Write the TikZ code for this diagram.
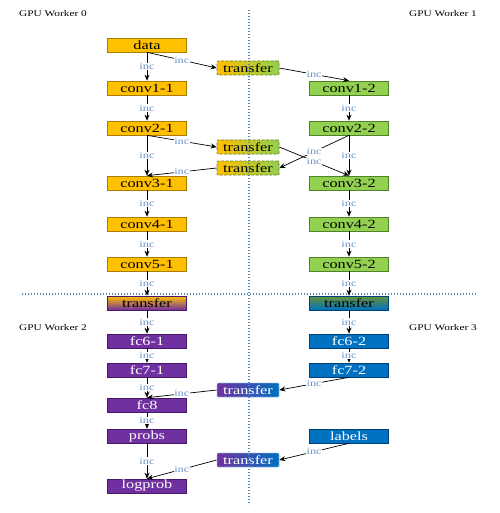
\documentclass[tikz,border=0pt]{standalone}
\usepackage{fontspec}
\setmainfont[FakeStretch=1.3]{Liberation Serif}
\usetikzlibrary{arrows.meta}
\definecolor{org}{RGB}{255,192,0}
\definecolor{orgb}{RGB}{170,125,0}
\definecolor{grn}{RGB}{146,208,80}
\definecolor{grnb}{RGB}{80,130,40}
\definecolor{prp}{RGB}{112,48,160}
\definecolor{prpb}{RGB}{70,25,110}
\definecolor{blu}{RGB}{0,112,192}
\definecolor{blub}{RGB}{0,65,120}
\definecolor{incc}{RGB}{110,150,200}
\definecolor{dotc}{RGB}{80,140,190}
\tikzset{
  box/.style={minimum width=79pt, minimum height=14pt, inner sep=0pt, font=\fontsize{12.5}{12.5}\selectfont, draw, line width=0.6pt},
  orangebox/.style={box, fill=org, draw=orgb},
  greenbox/.style={box, fill=grn, draw=grnb},
  purplebox/.style={box, fill=prp, draw=prpb, text=white},
  bluebox/.style={box, fill=blu, draw=blub, text=white},
  gradop/.style={box, top color=org, bottom color=prp, draw=prpb},
  gradgb/.style={box, top color=grn!70!black, bottom color=blu, draw=blub},
  xfer/.style={minimum width=62pt, minimum height=14pt, inner sep=0pt, rounded corners=1pt, dash pattern=on 3pt off 1.5pt, font=\fontsize{12.5}{12.5}\selectfont, line width=0.7pt},
  xferog/.style={xfer, left color=org, right color=grn, draw=grnb!80!orgb},
  xferpb/.style={xfer, left color=prp, right color=blu, draw=white!55!blu, text=white},
  arr/.style={-{Stealth[length=6pt,width=5pt]}, line width=0.7pt, black},
  inc/.style={midway, fill=white, inner sep=0.4pt, text=incc, font=\fontsize{9.5}{9.5}\selectfont},
  worker/.style={font=\fontsize{8.7}{8.7}\selectfont, inner sep=0pt},
  sepline/.style={dotc, line width=1.3pt, dash pattern=on 1.1pt off 1.9pt}
}
\begin{document}
\begin{tikzpicture}[x=1pt,y=-1pt]
\useasboundingbox (0,0) rectangle (499,513);
\node[worker] (w0) at (53,14) {GPU Worker 0};
\node[worker] (w1) at (443,14) {GPU Worker 1};
\node[worker] (w2) at (53,328) {GPU Worker 2};
\node[worker] (w3) at (443,328) {GPU Worker 3};

\node[orangebox] (data) at (147,45) {data};
\node[xferog] (t1) at (248,68) {transfer};
\node[orangebox] (c11) at (147,88) {conv1-1};
\node[greenbox] (c12) at (349,88) {conv1-2};
\node[orangebox] (c21) at (147,128) {conv2-1};
\node[greenbox] (c22) at (349,128) {conv2-2};
\node[xferog] (t2) at (248,147) {transfer};
\node[xferog] (t3) at (248,168) {transfer};
\node[orangebox] (c31) at (147,183) {conv3-1};
\node[greenbox] (c32) at (349,183) {conv3-2};
\node[orangebox] (c41) at (147,224) {conv4-1};
\node[greenbox] (c42) at (349,224) {conv4-2};
\node[orangebox] (c51) at (147,264) {conv5-1};
\node[greenbox] (c52) at (349,264) {conv5-2};
\node[gradop] (tg1) at (147,303) {transfer};
\node[gradgb] (tg2) at (349,303) {transfer};
\node[purplebox] (fc61) at (147,341) {fc6-1};
\node[bluebox] (fc62) at (349,341) {fc6-2};
\node[purplebox] (fc71) at (147,370) {fc7-1};
\node[bluebox] (fc72) at (349,370) {fc7-2};
\node[xferpb] (t4) at (248,390) {transfer};
\node[purplebox] (fc8) at (147,405) {fc8};
\node[purplebox] (probs) at (147,436) {probs};
\node[bluebox] (labels) at (349,436) {labels};
\node[xferpb] (t5) at (248,460) {transfer};
\node[purplebox] (logprob) at (147,486) {logprob};

\coordinate (vtop) at (249,10);
\coordinate (vbot) at (249,505);
\coordinate (hl) at (22,294);
\coordinate (hr) at (477,294);
\draw[sepline] (vtop) -- (vbot);
\draw[sepline] (hl) -- (hr);

\draw[arr] (data.south) -- (t1.west) node[inc] {inc};
\draw[arr] (t1.east) -- (c12.north) node[inc] {inc};
\draw[arr] (data) -- (c11) node[inc] {inc};
\draw[arr] (c11) -- (c21) node[inc] {inc};
\draw[arr] (c12) -- (c22) node[inc] {inc};
\draw[arr] (c21.south) -- (t2.west) node[inc] {inc};
\draw[arr] (c22.south) -- (t3.east) node[inc] {inc};
\draw[arr] (t2.east) -- (c32.north) node[inc] {inc};
\draw[arr] (t3.west) -- (c31.north) node[inc] {inc};
\draw[arr] (c21) -- (c31) node[inc] {inc};
\draw[arr] (c22) -- (c32) node[inc] {inc};
\draw[arr] (c31) -- (c41) node[inc] {inc};
\draw[arr] (c32) -- (c42) node[inc] {inc};
\draw[arr] (c41) -- (c51) node[inc] {inc};
\draw[arr] (c42) -- (c52) node[inc] {inc};
\draw[arr] (c51) -- (tg1) node[inc] {inc};
\draw[arr] (c52) -- (tg2) node[inc] {inc};
\draw[arr] (tg1) -- (fc61) node[inc] {inc};
\draw[arr] (tg2) -- (fc62) node[inc] {inc};
\draw[arr] (fc61) -- (fc71) node[inc] {inc};
\draw[arr] (fc62) -- (fc72) node[inc] {inc};
\draw[arr] (fc72.south) -- (t4.east) node[inc] {inc};
\draw[arr] (t4.west) -- (fc8.north) node[inc] {inc};
\draw[arr] (fc71) -- (fc8) node[inc] {inc};
\draw[arr] (fc8) -- (probs) node[inc] {inc};
\draw[arr] (probs) -- (logprob) node[inc] {inc};
\draw[arr] (labels.south) -- (t5.east) node[inc] {inc};
\draw[arr] (t5.west) -- (logprob.north) node[inc] {inc};
\end{tikzpicture}
\end{document}
